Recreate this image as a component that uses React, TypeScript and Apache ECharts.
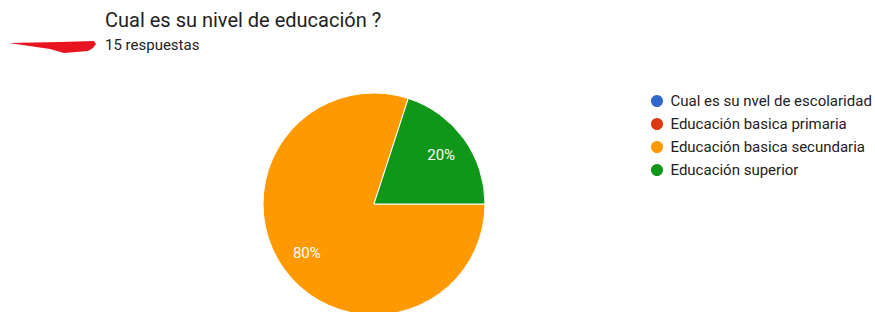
import React, { useEffect, useRef } from "react";
import * as echarts from "echarts";

const title = "Cual es su nivel de educación ?";
const subtitle = "15 respuestas";
const categories = [
  "Cual es su nvel de escolaridad",
  "Educación basica primaria",
  "Educación basica secundaria",
  "Educación superior",
];
const values = [0, 0, 12, 3];
const colors = ["#3366cc", "#dc3912", "#ff9900", "#109618"];

export default function App() {
  const ref = useRef<HTMLDivElement>(null);
  useEffect(() => {
    document.body.style.margin = "0";
    const chart = echarts.init(ref.current!, null, { renderer: "svg" });
    const data = categories.map((name, i) => ({
      name,
      value: values[i],
      itemStyle: { color: colors[i] },
    }));
    const total = values.reduce((a, b) => a + b, 0);
    chart.setOption({
      animation: false,
      backgroundColor: "#ffffff",
      title: [
        {
          text: title,
          left: 105,
          top: 10,
          padding: 0,
          textStyle: { fontFamily: "Roboto", fontSize: 20, fontWeight: "normal", color: "#222222" },
        },
        {
          text: subtitle,
          left: 105,
          top: 37,
          padding: 0,
          textStyle: { fontFamily: "Roboto", fontSize: 15, fontWeight: "normal", color: "#222222" },
        },
      ],
      legend: {
        orient: "vertical",
        left: 649,
        top: 93,
        padding: 0,
        icon: "circle",
        itemWidth: 17,
        itemHeight: 14,
        itemGap: 7,
        selectedMode: false,
        data: categories,
        textStyle: { fontFamily: "Roboto", fontSize: 15, color: "#222222" },
      },
      graphic: [
        {
          type: "polygon",
          shape: {
            points: [
              [9, 43],
              [60, 42],
              [94, 41],
              [96, 44],
              [93, 48],
              [88, 51],
              [64, 53],
              [50, 49],
            ],
          },
          style: { fill: "#e8141f" },
        },
      ],
      series: [
        {
          type: "pie",
          center: [374, 204],
          radius: [0, 111],
          startAngle: 0,
          clockwise: true,
          silent: true,
          label: { show: false },
          labelLine: { show: false },
          itemStyle: { borderColor: "#ffffff", borderWidth: 1 },
          data,
        },
        {
          type: "pie",
          center: [374, 204],
          radius: [49, 111],
          startAngle: 0,
          clockwise: true,
          silent: true,
          itemStyle: { color: "transparent", borderWidth: 0 },
          label: {
            show: true,
            position: "inside",
            color: "#ffffff",
            fontFamily: "Roboto",
            fontSize: 15,
            formatter: (p: any) => (p.value > 0 ? Math.round((p.value / total) * 100) + "%" : ""),
          },
          labelLine: { show: false },
          data: categories.map((name, i) => ({ name, value: values[i], itemStyle: { color: "transparent" } })),
        },
      ],
    });
    return () => chart.dispose();
  }, []);
  return <div ref={ref} style={{ width: 875, height: 312 }} />;
}
